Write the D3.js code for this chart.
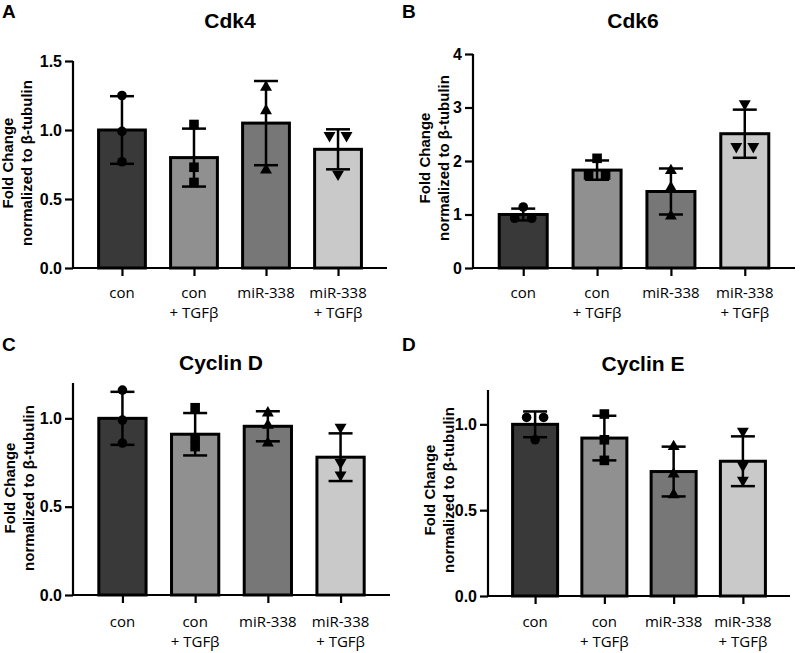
<!DOCTYPE html>
<html><head><meta charset="utf-8">
<script src="https://cdn.jsdelivr.net/npm/d3@7"></script>
<style>body{margin:0;background:#fff}svg{display:block}</style>
</head><body>
<script>
// ---------- DATA ----------
const categories = [["con"], ["con", "+ TGFβ"], ["miR-338"], ["miR-338", "+ TGFβ"]];
const barColors = ["#393939", "#909090", "#777777", "#c9c9c9"];
const markerShapes = ["circle", "square", "triangle", "triangleDown"];

const cdk4Means = [1.00, 0.80, 1.05, 0.86];
const cdk4SD = [0.245, 0.21, 0.305, 0.145];
const cdk4Points = [[1.25, 0.99, 0.77], [1.04, 0.73, 0.62], [1.31, 1.14, 0.71], [0.96, 0.96, 0.68]];
const cdk4Ticks = [0, 0.5, 1.0, 1.5];

const cdk6Means = [1.00, 1.83, 1.43, 2.51];
const cdk6SD = [0.11, 0.18, 0.43, 0.45];
const cdk6Points = [[1.14, 0.93, 0.93], [2.05, 1.74, 1.74], [1.82, 1.50, 0.97], [3.07, 2.27, 2.27]];
const cdk6Ticks = [0, 1, 2, 3, 4];

const cycDMeans = [1.00, 0.91, 0.955, 0.78];
const cycDSD = [0.15, 0.12, 0.085, 0.135];
const cycDPoints = [[1.16, 0.99, 0.86], [1.06, 0.89, 0.84], [1.03, 0.96, 0.86], [0.95, 0.75, 0.68]];
const cycDTicks = [0, 0.5, 1.0];

const cycEMeans = [1.00, 0.92, 0.725, 0.785];
const cycESD = [0.075, 0.13, 0.145, 0.145];
const cycEPoints = [[1.04, 1.04, 0.91], [1.06, 0.91, 0.79], [0.87, 0.71, 0.59], [0.96, 0.76, 0.675]];
const cycETicks = [0, 0.5, 1.0];

// ---------- LAYOUT ----------
const W = 800, H = 653;
const svg = d3.select("body").append("svg").attr("width", W).attr("height", H);

const panels = [
  {letter: "A", title: "Cdk4", means: cdk4Means, sd: cdk4SD, pts: cdk4Points, ticks: cdk4Ticks, fmt: d3.format(".1f"),
   yMax: 1.5, x0: 73, x1: 387, y0: 268, yTop: 61, lx: 2, ly: 18, tx: 230, ty: 28, labX: 8, labY: 163, catY: 298,
   jitter: [[0,0,0],[0,0,0],[0,0,0],[-1,1,0]]},
  {letter: "B", title: "Cdk6", means: cdk6Means, sd: cdk6SD, pts: cdk6Points, ticks: cdk6Ticks, fmt: d3.format("d"),
   yMax: 4, x0: 473, x1: 795, y0: 268, yTop: 54, lx: 402, ly: 18, tx: 633, ty: 28, labX: 425, labY: 158, catY: 298,
   jitter: [[0,-1,1],[0,-1,1],[0,0,0],[0,-1,1]]},
  {letter: "C", title: "Cyclin D", means: cycDMeans, sd: cycDSD, pts: cycDPoints, ticks: cycDTicks, fmt: d3.format(".1f"),
   yMax: 1.2, x0: 73, x1: 390, y0: 595, yTop: 383, lx: 2, ly: 351, tx: 221, ty: 370, labX: 10, labY: 488, catY: 627,
   jitter: [[0,0,0],[0,0,0],[0,0,0],[0,0,0]]},
  {letter: "D", title: "Cyclin E", means: cycEMeans, sd: cycESD, pts: cycEPoints, ticks: cycETicks, fmt: d3.format(".1f"),
   yMax: 1.2, x0: 488, x1: 790, y0: 596, yTop: 390, lx: 402, ly: 351, tx: 643, ty: 371, labX: 430, labY: 490, catY: 627,
   jitter: [[-1,1,0],[0,0,0],[0,0,0],[0,0,0]]}
];

const boldFont = "'Liberation Sans', Arial, sans-serif";
const catFont = "'Open Sans', sans-serif";

function marker(g, shape, cx, cy) {
  if (shape === "circle") {
    g.append("circle").attr("cx", cx).attr("cy", cy).attr("r", 4.8).attr("fill", "#000");
  } else if (shape === "square") {
    g.append("rect").attr("x", cx - 4.8).attr("y", cy - 4.8).attr("width", 9.6).attr("height", 9.6).attr("fill", "#000");
  } else {
    const sym = d3.symbol().type(d3.symbolTriangle).size(62);
    g.append("path").attr("d", sym())
      .attr("transform", `translate(${cx},${cy})` + (shape === "triangleDown" ? " rotate(180)" : ""))
      .attr("fill", "#000");
  }
}

panels.forEach(p => {
  const g = svg.append("g");
  const y = d3.scaleLinear().domain([0, p.yMax]).range([p.y0, p.yTop]);
  const x = d3.scalePoint().domain(d3.range(categories.length)).range([p.x0, p.x1]).padding(0.68);
  const bw = x.step() * 0.65;

  // letter and title
  g.append("text").attr("x", p.lx).attr("y", p.ly).text(p.letter)
    .attr("font-family", boldFont).attr("font-weight", "bold").attr("font-size", 19);
  g.append("text").attr("x", p.tx).attr("y", p.ty).attr("text-anchor", "middle").text(p.title)
    .attr("font-family", boldFont).attr("font-weight", "bold").attr("font-size", 21);

  // y label
  const yl = g.append("text").attr("transform", `translate(${p.labX},${p.labY}) rotate(-90)`)
    .attr("text-anchor", "middle").attr("font-family", boldFont).attr("font-weight", "bold").attr("font-size", 15);
  yl.append("tspan").attr("x", 0).attr("dy", "0.35em").text("Fold Change");
  yl.append("tspan").attr("x", 0).attr("dy", 19).text("normalized to β-tubulin");

  // bars
  p.means.forEach((m, i) => {
    g.append("rect").attr("x", x(i) - bw / 2).attr("y", y(m)).attr("width", bw).attr("height", y(0) - y(m))
      .attr("fill", barColors[i]).attr("stroke", "#000").attr("stroke-width", 3);
  });

  // error bars
  p.means.forEach((m, i) => {
    const cx = x(i), hi = y(m + p.sd[i]), lo = y(m - p.sd[i]);
    g.append("line").attr("x1", cx).attr("x2", cx).attr("y1", hi).attr("y2", lo).attr("stroke", "#000").attr("stroke-width", 2.5);
    [hi, lo].forEach(yy => g.append("line").attr("x1", cx - 12).attr("x2", cx + 12).attr("y1", yy).attr("y2", yy)
      .attr("stroke", "#000").attr("stroke-width", 2.5));
  });

  // points
  p.pts.forEach((arr, i) => {
    arr.forEach((v, k) => marker(g, markerShapes[i], x(i) + p.jitter[i][k] * 8.5, y(v)));
  });

  // axes
  const ya = g.append("g").attr("transform", `translate(${p.x0},0)`)
    .call(d3.axisLeft(y).tickValues(p.ticks).tickFormat(p.fmt).tickSize(8).tickPadding(3));
  ya.select(".domain").attr("d", `M0,${p.y0 + 1}V${p.yTop}`).attr("stroke-width", 2.2);
  ya.selectAll(".tick line").attr("stroke-width", 2.2);
  ya.selectAll("text").attr("font-family", boldFont).attr("font-weight", "bold").attr("font-size", 16).attr("fill", "#000");

  const xa = g.append("g").attr("transform", `translate(0,${p.y0})`)
    .call(d3.axisBottom(x).tickSize(8).tickFormat(""));
  xa.select(".domain").attr("d", `M${p.x0 - 1},0H${p.x1}`).attr("stroke-width", 2.2);
  xa.selectAll(".tick line").attr("stroke-width", 2.2);

  // category labels
  categories.forEach((lines, i) => {
    lines.forEach((t, k) => g.append("text").attr("x", x(i)).attr("y", p.catY + k * 20).attr("text-anchor", "middle")
      .attr("font-family", catFont).attr("font-size", 15).attr("fill", "#000").text(t));
  });
});
</script>
</body></html>
